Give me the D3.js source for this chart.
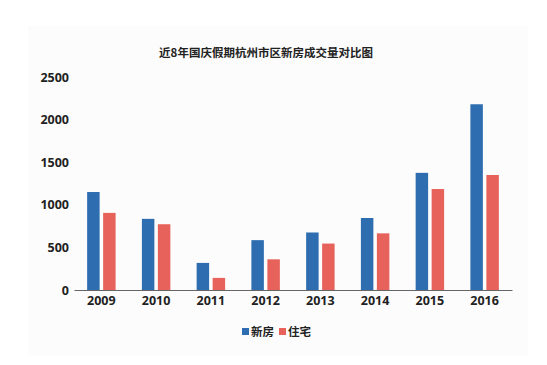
<!DOCTYPE html>
<html>
<head>
<meta charset="utf-8">
<script src="https://cdn.jsdelivr.net/npm/d3@7"></script>
<style>
  body { margin: 0; background: #ffffff; }
  svg { display: block; font-family: "Noto Sans CJK SC", "DejaVu Sans", sans-serif; }
</style>
</head>
<body>
<svg id="chart" width="547" height="365"></svg>
<script>
// data
var years = ["2009", "2010", "2011", "2012", "2013", "2014", "2015", "2016"];
var xinfang = [1150, 835, 318, 585, 675, 845, 1375, 2180];   // 新房
var zhuzhai = [905, 772, 142, 360, 545, 665, 1185, 1350];    // 住宅
var yTicks = [0, 500, 1000, 1500, 2000, 2500];
var seriesNames = ["新房", "住宅"];
var colors = ["#2e6db0", "#e8625c"];

var svg = d3.select("#chart");

// faint panel like the screenshot
svg.append("rect")
  .attr("x", 28).attr("y", 26).attr("width", 500).attr("height", 330)
  .attr("fill", "#fcfcfc");

var x0 = d3.scaleBand().domain(years).range([74, 512])
  .paddingInner(0.48).paddingOuter(0.24);
var x1 = d3.scaleBand().domain(seriesNames).range([0, x0.bandwidth()])
  .paddingInner(0.22);
var y = d3.scaleLinear().domain([0, 2500]).range([290, 77]);

svg.append("text")
  .attr("x", 266).attr("y", 57)
  .attr("text-anchor", "middle")
  .attr("font-size", 11.5).attr("font-weight", "bold")
  .attr("fill", "#222")
  .text("近8年国庆假期杭州市区新房成交量对比图");

// y labels, no axis line
var yAxis = svg.append("g").attr("transform", "translate(74,0)")
  .call(d3.axisLeft(y).tickValues(yTicks).tickSize(0).tickPadding(5).tickFormat(d3.format("d")));
yAxis.select(".domain").remove();
yAxis.selectAll("text")
  .attr("font-size", 12.5).attr("font-weight", "bold")
  .attr("fill", "#222").attr("font-family", "'Open Sans', sans-serif");

var rows = years.map(function(yr, i) {
  return { year: yr, vals: [xinfang[i], zhuzhai[i]] };
});

var groups = svg.selectAll("g.grp").data(rows).enter().append("g")
  .attr("class", "grp")
  .attr("transform", function(d) { return "translate(" + x0(d.year) + ",0)"; });

groups.selectAll("rect").data(function(d) {
    return d.vals.map(function(v, j) { return { name: seriesNames[j], v: v, j: j }; });
  }).enter().append("rect")
  .attr("x", function(d) { return x1(d.name); })
  .attr("y", function(d) { return y(d.v); })
  .attr("width", x1.bandwidth())
  .attr("height", function(d) { return y(0) - y(d.v); })
  .attr("fill", function(d) { return colors[d.j]; });

// x axis
var xAxis = svg.append("g").attr("transform", "translate(0,290)")
  .call(d3.axisBottom(x0).tickSize(0).tickPadding(6));
xAxis.select(".domain").attr("stroke", "#666").attr("stroke-width", 1);
xAxis.selectAll("text")
  .attr("font-size", 12.5).attr("font-weight", "bold")
  .attr("fill", "#222").attr("font-family", "'Open Sans', sans-serif");

// legend
var legend = svg.append("g").attr("transform", "translate(242,332)");
var items = legend.selectAll("g").data(seriesNames).enter().append("g")
  .attr("transform", function(d, i) { return "translate(" + (i * 37) + ",0)"; });
items.append("rect")
  .attr("x", 0).attr("y", -4).attr("width", 7).attr("height", 7)
  .attr("fill", function(d, i) { return colors[i]; });
items.append("text")
  .attr("x", 9).attr("y", 0).attr("dy", "0.35em")
  .attr("font-size", 11.5).attr("font-weight", "bold").attr("fill", "#222")
  .text(function(d) { return d; });
</script>
</body>
</html>
